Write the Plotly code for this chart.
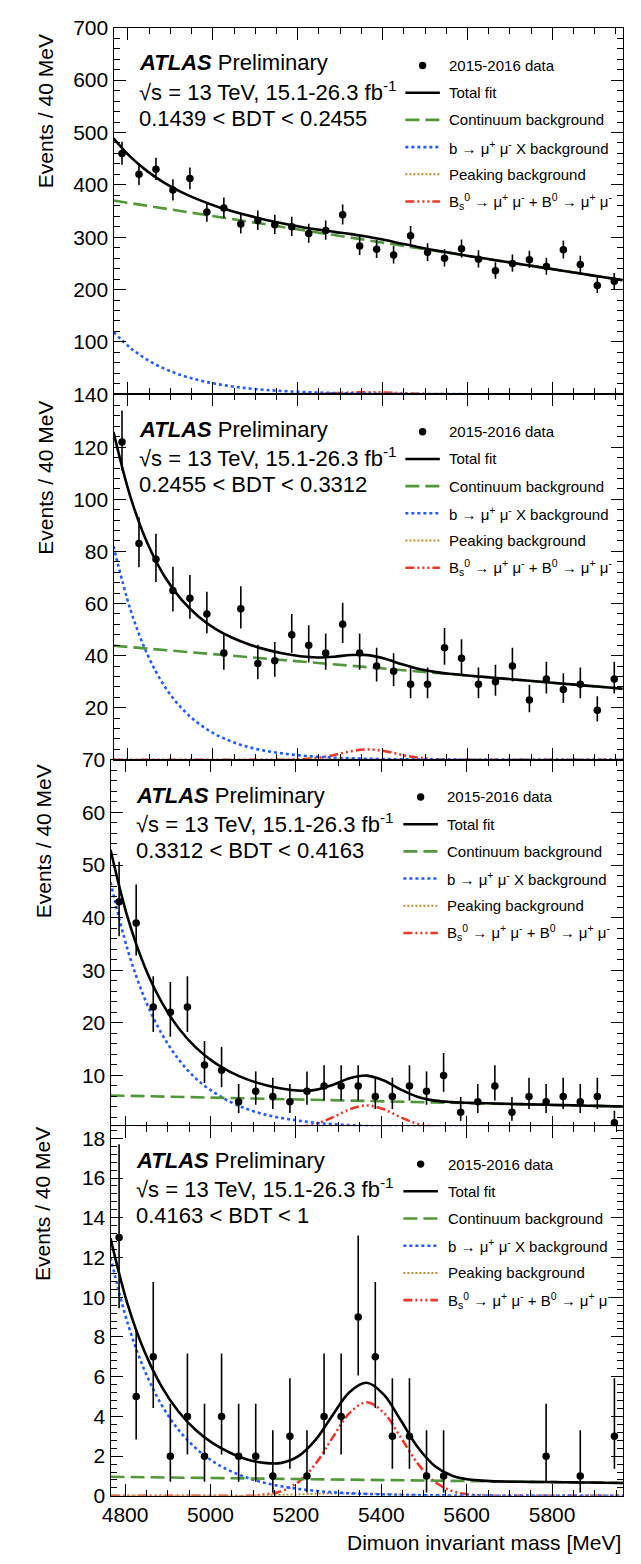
import math
import plotly.graph_objects as go

FIG_W, FIG_H = 641, 1564
FONT = "Liberation Sans"

# ---------------------------------------------------------------- data
# centres of the 40 MeV bins of the dimuon mass histogram
bin_centres = [4786, 4826, 4866, 4906, 4946, 4986, 5026, 5066, 5106, 5146,
               5186, 5226, 5266, 5306, 5346, 5386, 5426, 5466, 5506, 5546,
               5586, 5626, 5666, 5706, 5746, 5786, 5826, 5866, 5906, 5946]

# mass points at which the fit components are evaluated
curve_mass = [4766, 4806, 4846, 4886, 4926, 4966, 5006, 5046, 5086, 5126,
              5166, 5206, 5246, 5286, 5326, 5366, 5406, 5446, 5486, 5526,
              5566, 5606, 5646, 5686, 5726, 5766, 5806, 5846, 5886, 5926, 5966]
continuum_mass = [4766, 5966]

bdt_labels = ["0.1439 < BDT < 0.2455", "0.2455 < BDT < 0.3312",
              "0.3312 < BDT < 0.4163", "0.4163 < BDT < 1"]

# events per bin, one list per BDT interval
data_1 = [460, 420, 430, 390, 412, 348, 356, 325, 332, 324, 320, 307, 313, 343, 283,
          277, 266, 303, 271, 260, 278, 258, 236, 250, 257, 244, 276, 248, 208, 216]
data_2 = [122, 83, 77, 65, 62, 56, 41, 58, 37, 38, 48, 44, 41, 52, 41,
          36, 34, 29, 29, 43, 39, 29, 30, 36, 23, 31, 27, 29, 19, 31]
data_3 = [43, 39, 23, 22, 23, 12, 11, 5, 7, 6, 5, 7, 8, 8, 8,
          6, 6, 8, 7, 10, 3, 5, 8, 3, 6, 5, 6, 5, 6, 1]
data_4 = [13, 5, 7, 2, 4, 2, 4, 2, 2, 1, 3, 1, 4, 4, 9,
          7, 3, 3, 1, 1, 0, 0, 0, 0, 0, 2, 0, 1, 0, 3]

# total fit
total_1 = [489, 453.4, 425.7, 403.7, 386.1, 371.8, 359.7, 349.6, 340.8, 333.0, 326.1,
           320.1, 314.7, 310.2, 305.9, 300.8, 294.5, 287.5, 280.7, 274.6, 269.2,
           263.8, 258.7, 253.6, 248.5, 243.3, 238.3, 233.2, 228.1, 223.1, 218.0]
total_2 = [125.8, 100.85, 83.1, 70.45, 61.5, 55.05, 50.3, 46.85, 44.26, 42.3, 40.8,
           39.76, 39.3, 39.59, 40.24, 40.19, 38.78, 36.65, 34.84, 33.67, 32.92,
           32.3, 31.73, 31.17, 30.62, 30.06, 29.51, 28.95, 28.4, 27.85, 27.3]
total_3 = [52.9, 40.03, 30.66, 23.89, 18.92, 15.28, 12.63, 10.68, 9.25, 8.23, 7.5,
           7.11, 7.26, 8.19, 9.46, 9.97, 9.03, 7.31, 5.92, 5.21, 4.92,
           4.79, 4.7, 4.62, 4.54, 4.47, 4.39, 4.32, 4.25, 4.17, 4.1]
total_4 = [12.96, 9.64, 7.24, 5.49, 4.22, 3.30, 2.64, 2.17, 1.83, 1.66, 1.66,
           2.0, 2.82, 4.06, 5.23, 5.69, 5.10, 3.79, 2.43, 1.49, 1.01,
           0.82, 0.755, 0.72, 0.71, 0.70, 0.69, 0.68, 0.67, 0.66, 0.65]

# continuum background (straight line, end points)
continuum_1 = [370, 218]
continuum_2 = [43.8, 27.3]
continuum_3 = [6.2, 4.1]
continuum_4 = [0.96, 0.65]

# b -> mu mu X background
bmumux_1 = [119, 88.5, 65.8, 48.9, 36.4, 27.1, 20.1, 15.0, 11.1, 8.3, 6.2, 4.6, 3.4,
            2.5, 1.9, 1.4, 1.0, 0.8, 0.6, 0.4, 0.3, 0.2, 0.2, 0.1, 0.1, 0.1, 0.05,
            0, 0, 0, 0]
bmumux_2 = [82, 57.6, 40.4, 28.3, 19.9, 14.0, 9.8, 6.9, 4.8, 3.4, 2.4, 1.7, 1.2,
            0.8, 0.6, 0.4, 0.3, 0.2, 0.14, 0.1, 0.07, 0.05, 0.03, 0.02, 0.02, 0.01,
            0.01, 0, 0, 0, 0]
bmumux_3 = [46.7, 33.9, 24.6, 17.9, 13.0, 9.4, 6.9, 5.0, 3.6, 2.6, 1.9, 1.4, 1.0,
            0.73, 0.53, 0.38, 0.28, 0.2, 0.15, 0.11, 0.08, 0.06, 0.04, 0.03, 0.02,
            0.015, 0.01, 0.01, 0.005, 0, 0]
bmumux_4 = [12, 8.69, 6.30, 4.56, 3.30, 2.39, 1.73, 1.26, 0.91, 0.66, 0.48, 0.35,
            0.25, 0.18, 0.13, 0.094, 0.068, 0.049, 0.036, 0.026, 0.019, 0.014, 0.01,
            0.007, 0.005, 0, 0, 0, 0, 0, 0]

# peaking background
peaking_1 = [0, 0, 0, 0, 0, 0, 0, 0.1, 0.2, 0.35, 0.6, 0.9, 1.2, 1.45, 1.5, 1.4,
             1.1, 0.75, 0.45, 0.2, 0.08, 0, 0, 0, 0, 0, 0, 0, 0, 0, 0]
peaking_2 = [0, 0, 0, 0, 0, 0, 0, 0.02, 0.03, 0.06, 0.1, 0.15, 0.2, 0.24, 0.25, 0.23,
             0.18, 0.12, 0.07, 0.03, 0.01, 0, 0, 0, 0, 0, 0, 0, 0, 0, 0]
peaking_3 = [0, 0, 0, 0, 0, 0, 0, 0, 0, 0.035, 0.06, 0.09, 0.12, 0.145, 0.15, 0.14,
             0.11, 0.075, 0.045, 0.02, 0, 0, 0, 0, 0, 0, 0, 0, 0, 0, 0]
peaking_4 = [0, 0, 0, 0, 0, 0, 0, 0, 0, 0.03, 0.05, 0.07, 0.1, 0.12, 0.12, 0.11,
             0.09, 0.06, 0.04, 0.02, 0, 0, 0, 0, 0, 0, 0, 0, 0, 0, 0]

# Bs -> mu mu + B0 -> mu mu signal
signal_1 = [0, 0, 0, 0, 0, 0, 0, 0, 0, 0, 0.07, 0.29, 0.92, 2.08, 3.4, 4.0,
            3.4, 2.08, 0.92, 0.29, 0.07, 0, 0, 0, 0, 0, 0, 0, 0, 0, 0]
signal_2 = [0, 0, 0, 0, 0, 0, 0, 0, 0, 0, 0.035, 0.19, 0.73, 1.88, 3.31, 4.0,
            3.31, 1.88, 0.73, 0.19, 0.035, 0, 0, 0, 0, 0, 0, 0, 0, 0, 0]
signal_3 = [0, 0, 0, 0, 0, 0, 0, 0, 0, 0, 0.04, 0.21, 0.78, 2.02, 3.56, 4.3,
            3.56, 2.02, 0.78, 0.21, 0.04, 0, 0, 0, 0, 0, 0, 0, 0, 0, 0]
signal_4 = [0, 0, 0, 0, 0, 0, 0, 0, 0, 0.065, 0.24, 0.70, 1.61, 2.93, 4.18, 4.71,
            4.18, 2.93, 1.61, 0.70, 0.24, 0.065, 0.015, 0, 0, 0, 0, 0, 0, 0, 0]

x_tick_values = [4800, 5000, 5200, 5400, 5600, 5800]

legend_labels = [
    "2015-2016 data",
    "Total fit",
    "Continuum background",
    "b \u2192 \u03bc<sup>+</sup> \u03bc<sup>-</sup> X background",
    "Peaking background",
    "B<sub>s</sub><sup>0</sup> \u2192 \u03bc<sup>+</sup> \u03bc<sup>-</sup> + "
    "B<sup>0</sup> \u2192 \u03bc<sup>+</sup> \u03bc<sup>-</sup>",
]

# ---------------------------------------------------------------- styles
STYLE_TOTAL = dict(color="black", width=2.6)
STYLE_CONT = dict(color="#52983a", width=2.6, dash="14px,6px")
STYLE_BMUMUX = dict(color="#1f5cff", width=2.6, dash="3px,3px")
STYLE_PEAK = dict(color="#c08a2e", width=2, dash="2px,2px")
STYLE_SIGNAL = dict(color="#ee3526", width=2.6,
                    dash="9px,3px,2px,3px,2px,3px,2px,3px")


# ---------------------------------------------------------------- Poisson (Garwood) error bars
def poisson_cdf(k, mu):
    if k < 0:
        return 0.0
    if mu <= 0:
        return 1.0
    log_mu = math.log(mu)
    s = 0.0
    for i in range(k + 1):
        s += math.exp(i * log_mu - mu - math.lgamma(i + 1))
    return s


def solve_mu(k, target):
    lo, hi = 0.0, k + 12.0 * math.sqrt(k + 1) + 12.0
    for _ in range(50):
        mid = 0.5 * (lo + hi)
        if poisson_cdf(k, mid) > target:
            lo = mid
        else:
            hi = mid
    return 0.5 * (lo + hi)


ALPHA = 0.158655


def garwood(n):
    up = solve_mu(n, ALPHA) - n
    down = n - solve_mu(n - 1, 1 - ALPHA) if n > 0 else 0.0
    return up, down


# ---------------------------------------------------------------- panel layout (pixels)
panels = [
    dict(data=data_1, total=total_1, cont=continuum_1, bx=bmumux_1, peak=peaking_1,
         sig=signal_1, top=16, bottom=388, left=106, right=622.5, ymax=700,
         major=100, minor=20, zero_label=False, text_x=130, text_y=51.7,
         leg_y=54.3, sample_x=(402, 437), leg_text_x=444, title_x=37, title_top=20),
    dict(data=data_2, total=total_2, cont=continuum_2, bx=bmumux_2, peak=peaking_2,
         sig=signal_2, top=388, bottom=759, left=106, right=622.5, ymax=140.3,
         major=20, minor=4, zero_label=False, text_x=130, text_y=423.3,
         leg_y=426, sample_x=(402, 437), leg_text_x=444, title_x=37, title_top=392),
    dict(data=data_3, total=total_3, cont=continuum_3, bx=bmumux_3, peak=peaking_3,
         sig=signal_3, top=759, bottom=1132.7, left=103, right=622.7, ymax=70,
         major=10, minor=2, zero_label=False, text_x=126.7, text_y=795,
         leg_y=796.7, sample_x=(400, 435), leg_text_x=442.7, title_x=35, title_top=762),
    dict(data=data_4, total=total_4, cont=continuum_4, bx=bmumux_4, peak=peaking_4,
         sig=signal_4, top=1131, bottom=1506, left=103, right=622.7, ymax=18.6,
         major=2, minor=0.4, zero_label=True, text_x=126.7, text_y=1165.7,
         leg_y=1169.3, sample_x=(400, 435), leg_text_x=443, title_x=34, title_top=1130),
]


def px_x(px):
    return px / FIG_W


def px_y(py):
    return 1 - py / FIG_H


fig = go.Figure()
shapes = []
annotations = []
layout_axes = {}

for idx, p in enumerate(panels, start=1):
    xa = "x" if idx == 1 else f"x{idx}"
    ya = "y" if idx == 1 else f"y{idx}"
    xkey = "xaxis" if idx == 1 else f"xaxis{idx}"
    ykey = "yaxis" if idx == 1 else f"yaxis{idx}"

    # fit components
    fig.add_trace(go.Scatter(x=curve_mass, y=p["sig"], mode="lines", line=STYLE_SIGNAL,
                             line_shape="spline", xaxis=xa, yaxis=ya, showlegend=False))
    fig.add_trace(go.Scatter(x=curve_mass, y=p["peak"], mode="lines", line=STYLE_PEAK,
                             line_shape="spline", xaxis=xa, yaxis=ya, showlegend=False))
    fig.add_trace(go.Scatter(x=curve_mass, y=p["bx"], mode="lines", line=STYLE_BMUMUX,
                             line_shape="spline", xaxis=xa, yaxis=ya, showlegend=False))
    fig.add_trace(go.Scatter(x=continuum_mass, y=p["cont"], mode="lines", line=STYLE_CONT,
                             xaxis=xa, yaxis=ya, showlegend=False))
    fig.add_trace(go.Scatter(x=curve_mass, y=p["total"], mode="lines", line=STYLE_TOTAL,
                             line_shape="spline", xaxis=xa, yaxis=ya, showlegend=False))

    # data points with Poisson intervals (empty bins are not drawn)
    xs, ys, ups, downs = [], [], [], []
    for m, n in zip(bin_centres, p["data"]):
        if n <= 0:
            continue
        u, d = garwood(n)
        xs.append(m)
        ys.append(n)
        ups.append(u)
        downs.append(d)
    fig.add_trace(go.Scatter(
        x=xs, y=ys, mode="markers", xaxis=xa, yaxis=ya, showlegend=False,
        marker=dict(color="black", size=7.5),
        error_y=dict(type="data", symmetric=False, array=ups, arrayminus=downs,
                     color="black", thickness=1.6, width=0),
    ))

    # axes
    yvals = []
    v = 0.0
    while v <= p["ymax"] + 1e-9:
        yvals.append(round(v, 6))
        v += p["major"]
    ytext = [("" if (abs(t) < 1e-9 and not p["zero_label"]) else f"{t:g}") for t in yvals]

    common = dict(showline=True, linecolor="black", linewidth=1.2, mirror="ticks",
                  ticks="inside", tickcolor="black", tickwidth=1.2, ticklen=12,
                  showgrid=False, zeroline=False,
                  tickfont=dict(family=FONT, size=21, color="black"))
    layout_axes[xkey] = dict(
        common, domain=[px_x(p["left"]), px_x(p["right"])], range=[4766, 5966],
        anchor=ya, tickmode="array", tickvals=x_tick_values,
        ticktext=[str(t) for t in x_tick_values], showticklabels=(idx == 4),
        minor=dict(tickmode="linear", tick0=4800, dtick=50, ticks="inside",
                   ticklen=6, tickcolor="black", tickwidth=1.2),
    )
    layout_axes[ykey] = dict(
        common, domain=[px_y(p["bottom"]), px_y(p["top"])], range=[0, p["ymax"]],
        anchor=xa, tickmode="array", tickvals=yvals, ticktext=ytext,
        minor=dict(tickmode="linear", tick0=0, dtick=p["minor"], ticks="inside",
                   ticklen=6, tickcolor="black", tickwidth=1.2),
    )

    # y-axis title
    annotations.append(dict(
        text="Events / 40 MeV", textangle=-90, xref="paper", yref="paper",
        x=px_x(p["title_x"]), y=px_y(p["title_top"]), xanchor="center", yanchor="top",
        showarrow=False, font=dict(family=FONT, size=21, color="black"),
    ))

    # ATLAS label block
    info_lines = [
        "<b><i>ATLAS</i></b> Preliminary",
        "\u221as = 13 TeV, 15.1-26.3 fb<sup>-1</sup>",
        bdt_labels[idx - 1],
    ]
    for j, line in enumerate(info_lines):
        annotations.append(dict(
            text=line, xref="paper", yref="paper", x=px_x(p["text_x"]),
            y=px_y(p["text_y"] + 28 * j), xanchor="left", yanchor="middle",
            showarrow=False, font=dict(family=FONT, size=22, color="black"),
        ))

    # legend
    sx0, sx1 = p["sample_x"]
    sample_styles = [None, STYLE_TOTAL, STYLE_CONT, STYLE_BMUMUX, STYLE_PEAK, STYLE_SIGNAL]
    for j, (label, style) in enumerate(zip(legend_labels, sample_styles)):
        ry = p["leg_y"] + 27.6 * j
        if style is None:
            shapes.append(dict(
                type="circle", xref="paper", yref="paper", xsizemode="pixel",
                ysizemode="pixel", xanchor=px_x(0.5 * (sx0 + sx1)), yanchor=px_y(ry),
                x0=-3.7, x1=3.7, y0=-3.7, y1=3.7, fillcolor="black",
                line=dict(width=0),
            ))
        else:
            shapes.append(dict(
                type="line", xref="paper", yref="paper", x0=px_x(sx0), x1=px_x(sx1),
                y0=px_y(ry), y1=px_y(ry), line=style,
            ))
        annotations.append(dict(
            text=label, xref="paper", yref="paper", x=px_x(p["leg_text_x"]),
            y=px_y(ry), xanchor="left", yanchor="middle", showarrow=False,
            font=dict(family=FONT, size=15, color="black"),
        ))

# x-axis title
annotations.append(dict(
    text="Dimuon invariant mass [MeV]", xref="paper", yref="paper",
    x=px_x(622.7), y=px_y(1553), xanchor="right", yanchor="middle", showarrow=False,
    font=dict(family=FONT, size=21, color="black"),
))

fig.update_layout(
    width=FIG_W, height=FIG_H,
    margin=dict(l=0, r=0, t=0, b=0),
    paper_bgcolor="white", plot_bgcolor="white",
    font=dict(family=FONT, color="black"),
    showlegend=False,
    shapes=shapes, annotations=annotations,
    **layout_axes,
)

fig.write_html("out.html")
